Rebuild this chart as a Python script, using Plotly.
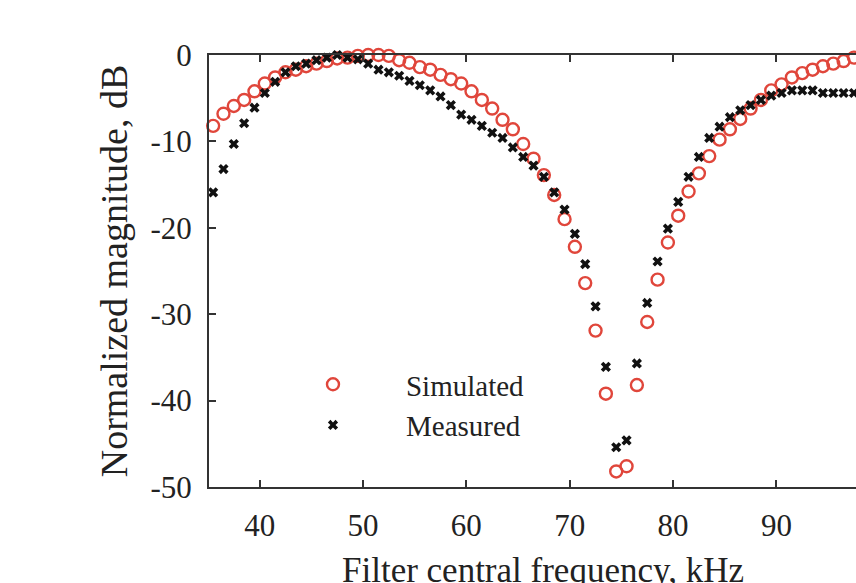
import plotly.graph_objects as go

freq = [35.5, 36.5, 37.5, 38.5, 39.5, 40.5, 41.5, 42.5, 43.5, 44.5, 45.5, 46.5, 47.5, 48.5,
        49.5, 50.5, 51.5, 52.5, 53.5, 54.5, 55.5, 56.5, 57.5, 58.5, 59.5, 60.5, 61.5, 62.5,
        63.5, 64.5, 65.5, 66.5, 67.5, 68.5, 69.5, 70.5, 71.5, 72.5, 73.5, 74.5, 75.5, 76.5,
        77.5, 78.5, 79.5, 80.5, 81.5, 82.5, 83.5, 84.5, 85.5, 86.5, 87.5, 88.5, 89.5, 90.5,
        91.5, 92.5, 93.5, 94.5, 95.5, 96.5, 97.5]

simulated = [-8.2, -6.8, -5.9, -5.2, -4.2, -3.3, -2.6, -2.0, -1.7, -1.3, -1.0, -0.7, -0.4, -0.3,
             -0.1, 0.0, 0.0, -0.1, -0.6, -0.9, -1.4, -1.7, -2.3, -2.8, -3.3, -4.2, -5.2, -6.2,
             -7.5, -8.6, -10.3, -12.0, -13.9, -16.2, -19.0, -22.2, -26.4, -31.9, -39.2, -48.2, -47.6, -38.2,
             -30.9, -26.0, -21.7, -18.6, -15.8, -13.7, -11.7, -9.8, -8.6, -7.4, -6.2, -5.2, -4.1, -3.4,
             -2.6, -2.1, -1.7, -1.3, -1.0, -0.7, -0.3]

measured = [-15.9, -13.2, -10.3, -7.9, -6.1, -4.4, -3.1, -2.0, -1.3, -1.0, -0.6, -0.3, 0.0, -0.3,
            -0.5, -1.0, -1.7, -2.0, -2.4, -3.0, -3.5, -4.1, -4.8, -5.8, -6.9, -7.5, -8.2, -9.0,
            -9.6, -10.7, -11.8, -12.8, -14.1, -15.9, -17.9, -20.7, -24.2, -29.1, -36.1, -45.4, -44.6, -35.7,
            -28.7, -23.9, -20.1, -17.0, -14.1, -11.8, -9.6, -8.3, -7.2, -6.4, -5.8, -5.2, -4.7, -4.4,
            -4.1, -4.1, -4.1, -4.4, -4.4, -4.4, -4.4]

x_ticks = [40, 50, 60, 70, 80, 90, 100]
y_ticks = [0, -10, -20, -30, -40, -50]

FONT = "Liberation Serif"
RED = "#e0463b"
AX = "#333333"

fig = go.Figure()
fig.add_trace(go.Scatter(
    x=freq, y=simulated, mode="markers", name="Simulated", cliponaxis=False,
    marker=dict(symbol="circle-open", size=12, color=RED, line=dict(width=2.4, color=RED)),
))
fig.add_trace(go.Scatter(
    x=freq, y=measured, mode="markers", name="Measured", cliponaxis=False,
    marker=dict(symbol="x", size=9, color="#111111", line=dict(width=0)),
))

fig.update_layout(
    width=856, height=583,
    margin=dict(l=209, r=0, t=55, b=96),
    paper_bgcolor="white", plot_bgcolor="white",
    font=dict(family=FONT, size=31, color="#222222"),
    showlegend=True,
    legend=dict(
        x=0.0788, y=0.19, xanchor="left", yanchor="middle",
        bgcolor="rgba(0,0,0,0)", font=dict(size=29, family=FONT, color="#222222"),
        itemwidth=136, tracegroupgap=0,
    ),
    xaxis=dict(
        range=[35.1, 97.7], tickvals=x_ticks, ticktext=[str(v) for v in x_ticks],
        showgrid=False, zeroline=False, showline=True, linecolor=AX, linewidth=2,
        ticks="inside", ticklen=7, tickwidth=2, tickcolor=AX, mirror="ticks",
        ticklabelstandoff=10,
    ),
    yaxis=dict(
        range=[-50, 0], tickvals=y_ticks, ticktext=[str(v) for v in y_ticks],
        showgrid=False, zeroline=False, showline=True, linecolor=AX, linewidth=2,
        ticks="inside", ticklen=7, tickwidth=2, tickcolor=AX,
        ticklabelstandoff=9,
        title=dict(text="Normalized magnitude, dB", font=dict(size=38, family=FONT), standoff=11),
    ),
    annotations=[dict(
        text="Filter central frequency, kHz", xref="paper", yref="paper",
        x=(542.5 - 209) / (856 - 209), y=-(549 - 487) / (487 - 55),
        xanchor="center", yanchor="top", showarrow=False,
        font=dict(size=35, family=FONT, color="#222222"),
    )],
)

fig.write_html("out.html", config={"displayModeBar": False},
               post_script="document.body.style.margin='0';")
